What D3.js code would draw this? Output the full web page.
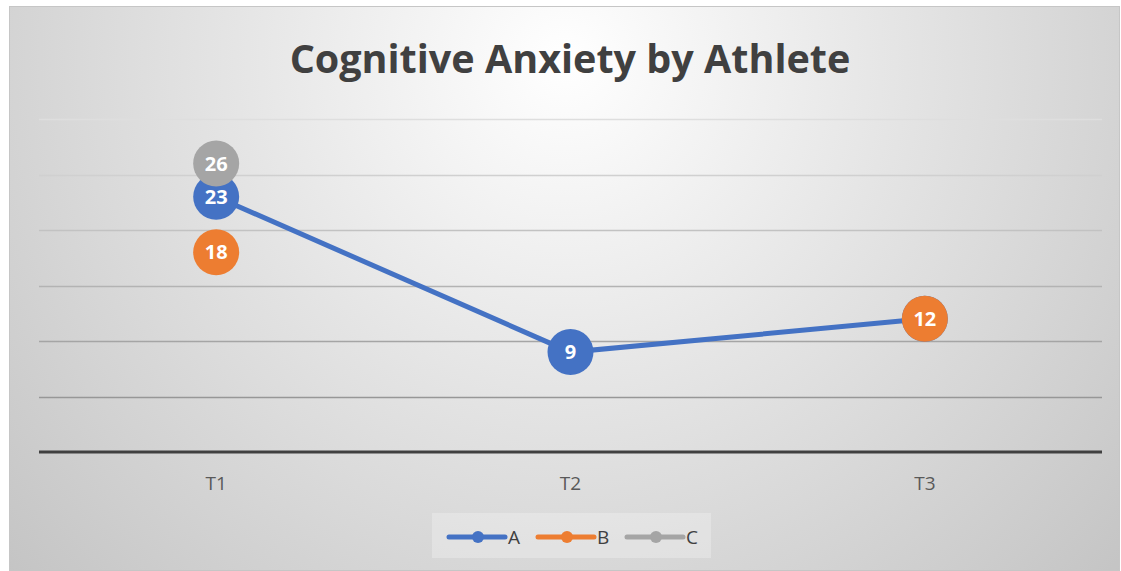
<!DOCTYPE html>
<html><head><meta charset="utf-8">
<script src="https://cdn.jsdelivr.net/npm/d3@7"></script>
<style>html,body{margin:0;padding:0;background:#fff;}svg{display:block;}</style>
</head><body>
<svg id="chart" width="1121" height="571"></svg>
<script>
const categories = ["T1", "T2", "T3"];
const seriesNames = ["A", "B", "C"];
const valuesA = [23, 9, 12];
const valuesB = [18, null, 12];
const valuesC = [26, null, null];
const yTicks = [0, 5, 10, 15, 20, 25, 30];
const titleText = "Cognitive Anxiety by Athlete";

const colors = {A: "#4472C4", B: "#ED7D31", C: "#A5A5A5"};
const series = [
  {name: "A", values: valuesA},
  {name: "B", values: valuesB},
  {name: "C", values: valuesC}
];

const svg = d3.select("#chart");
const defs = svg.append("defs");
const bg = defs.append("radialGradient").attr("id", "bg")
  .attr("gradientUnits", "userSpaceOnUse")
  .attr("cx", 565).attr("cy", 60).attr("r", 760)
  .attr("fx", 565).attr("fy", 60);
bg.append("stop").attr("offset", "0%").attr("stop-color", "#ffffff");
bg.append("stop").attr("offset", "45%").attr("stop-color", "#e4e4e4");
bg.append("stop").attr("offset", "100%").attr("stop-color", "#c4c4c4");

svg.append("rect").attr("x", 9.5).attr("y", 6.5).attr("width", 1110).attr("height", 564)
  .attr("fill", "url(#bg)").attr("stroke", "#c6c6c6").attr("stroke-width", 1);

const plot = {left: 39, right: 1102, top: 119, bottom: 452};
const x = d3.scaleBand().domain(categories).range([plot.left, plot.right]);
const y = d3.scaleLinear().domain([0, 30]).range([plot.bottom, plot.top]);
const gridColor = d3.scaleLinear().domain([5, 30]).range(["#979797", "#dedede"]);

// gridlines
svg.append("g").selectAll("line").data(yTicks.filter(t => t > 0)).join("line")
  .attr("x1", plot.left).attr("x2", plot.right)
  .attr("y1", d => Math.round(y(d)) + 0.5).attr("y2", d => Math.round(y(d)) + 0.5)
  .attr("stroke", d => gridColor(d)).attr("stroke-width", 1.5);

// x axis
const xAxis = svg.append("g").attr("transform", `translate(0,${y(0)})`)
  .call(d3.axisBottom(x).tickSize(0).tickPadding(0));
xAxis.select(".domain").attr("stroke", "#404040").attr("stroke-width", 3)
  .attr("d", `M${plot.left},0H${plot.right}`);
xAxis.selectAll("text").attr("dy", null).attr("y", 38)
  .attr("font-family", "Open Sans, sans-serif")
  .attr("font-size", 19).attr("fill", "#595959");

// title
const title = svg.append("text").attr("x", 570).attr("y", 73)
  .attr("text-anchor", "middle").attr("font-family", "Open Sans, sans-serif")
  .attr("font-weight", 700).attr("font-size", 40).attr("fill", "#404040").text(titleText);
const tw = title.node().getComputedTextLength();
title.attr("font-size", 40 * 561 / tw);

const cx = c => x(c) + x.bandwidth() / 2;
const line = d3.line().defined(d => d.v != null).x(d => cx(d.c)).y(d => y(d.v));

const r = 23;
series.forEach(s => {
  const pts = s.values.map((v, i) => ({c: categories[i], v}));
  const g = svg.append("g");
  g.append("path").datum(pts).attr("d", line).attr("fill", "none")
    .attr("stroke", colors[s.name]).attr("stroke-width", 5).attr("stroke-linecap", "round");
  const p = pts.filter(d => d.v != null);
  g.selectAll("circle").data(p).join("circle")
    .attr("cx", d => cx(d.c)).attr("cy", d => y(d.v)).attr("r", r)
    .attr("fill", colors[s.name]);
  g.selectAll("text").data(p).join("text")
    .attr("x", d => cx(d.c)).attr("y", d => y(d.v)).attr("dy", "0.36em")
    .attr("text-anchor", "middle").attr("font-family", "Open Sans, sans-serif")
    .attr("font-weight", 700).attr("font-size", 20).attr("fill", "#ffffff")
    .text(d => d.v);
});

// legend
const leg = svg.append("g");
leg.append("rect").attr("x", 432).attr("y", 513).attr("width", 279).attr("height", 45)
  .attr("fill", "#ffffff").attr("fill-opacity", 0.25);
const legX = d3.scalePoint().domain(seriesNames).range([449, 627]);
seriesNames.forEach(n => {
  const lx = legX(n);
  leg.append("line").attr("x1", lx).attr("x2", lx + 56).attr("y1", 537).attr("y2", 537)
    .attr("stroke", colors[n]).attr("stroke-width", 5).attr("stroke-linecap", "round");
  leg.append("circle").attr("cx", lx + 29).attr("cy", 537).attr("r", 6).attr("fill", colors[n]);
  leg.append("text").attr("x", lx + 59).attr("y", 544)
    .attr("font-family", "Open Sans, sans-serif").attr("font-size", 19).attr("fill", "#404040").text(n);
});
</script>
</body></html>
